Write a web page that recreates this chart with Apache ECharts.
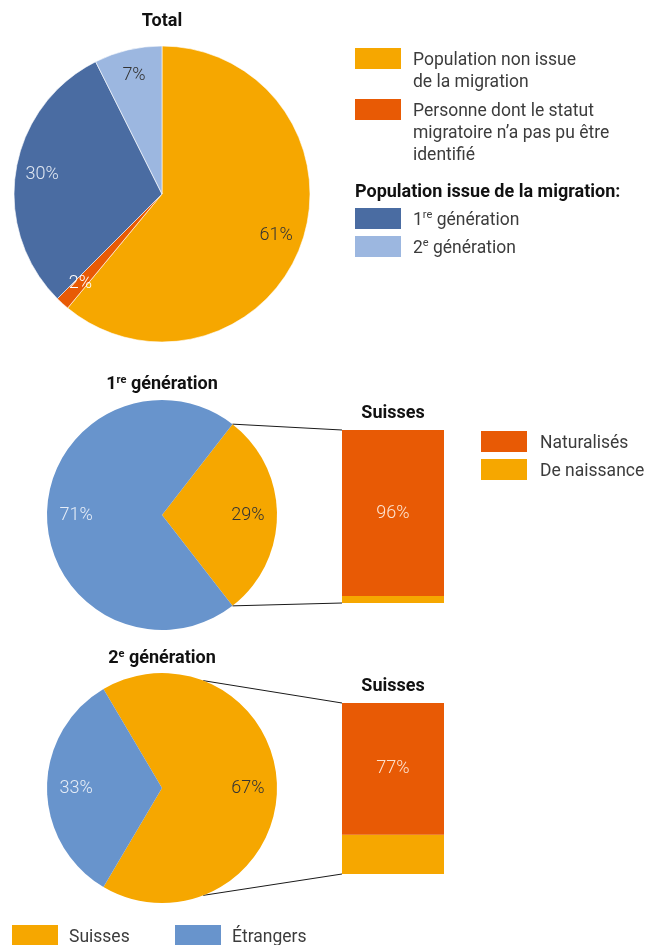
<!DOCTYPE html>
<html>
<head>
<meta charset="utf-8">
<script src="https://cdn.jsdelivr.net/npm/echarts@6/dist/echarts.min.js"></script>
<style>
  html, body { margin: 0; padding: 0; background: #fff; }
  #chart { width: 646px; height: 945px; }
</style>
</head>
<body>
<div id="chart"></div>
<script>
// 数据：总体
const totalNames = [
  'Population non issue\nde la migration',
  'Personne dont le statut\nmigratoire n’a pas pu être\nidentifié',
  '1re génération',
  '2e génération'
]
const totalValues = [61.0, 1.5, 30.1, 7.4]

// 数据：第一代 / 第二代
const genNames = ['Suisses', 'Étrangers']
const gen1Values = [29, 71]
const gen2Values = [67, 33]

// 数据：瑞士人构成（堆叠柱）
const barCategories = ['Suisses']
const barNames = ['Naturalisés', 'De naissance']
const gen1Naturalises = [96]
const gen1Naissance = [4]
const gen2Naturalises = [77]
const gen2Naissance = [23]

// 颜色
const ORANGE = '#f6a700'
const RED = '#e85a05'
const DARK_BLUE = '#4a6ca2'
const LIGHT_BLUE = '#9cb7e0'
const MID_BLUE = '#6894cc'
const TEXT = '#3c3c3c'
const FONT = 'Roboto, "Noto Sans", sans-serif'

const chart = echarts.init(document.getElementById('chart'))

// 上标
const supRich = { sup: { fontSize: 11, verticalAlign: 'top', padding: [0, 0, 2, 0] } }
const withSup = (s) => s.replace(/^(\d)(re|e) /, '$1{sup|$2} ')

const pctLabel = (p) => Math.round(p.value) + '%'

// 饼图
const pieBase = (center, radius, startAngle, data, border) => ({
  type: 'pie',
  center,
  radius,
  startAngle,
  clockwise: true,
  data,
  label: { show: false },
  labelLine: { show: false },
  emphasis: { disabled: true },
  itemStyle: { borderColor: '#fff', borderWidth: border },
  animation: false
})

// 用于放置标签的透明饼图
const labelPie = (center, radius, startAngle, names, values, colors) => ({
  type: 'pie',
  center,
  radius,
  startAngle,
  clockwise: true,
  silent: true,
  data: names.map((n, i) => ({
    name: n,
    value: values[i],
    label: { color: colors[i] }
  })),
  itemStyle: { color: 'rgba(0,0,0,0)', borderWidth: 0 },
  label: {
    show: true,
    position: 'inside',
    formatter: pctLabel,
    fontFamily: FONT,
    fontSize: 18,
    fontWeight: 300
  },
  labelLine: { show: false },
  emphasis: { disabled: true },
  animation: false
})

const totalCenter = [162, 194], totalR = 148
const gen1Center = [162, 515], gen2Center = [162, 788], genR = 115
const gen1Start = gen1Values[0] * 3.6 / 2
const gen2Start = gen2Values[0] * 3.6 / 2

const legendCommon = {
  orient: 'vertical',
  padding: 0,
  itemWidth: 46,
  itemHeight: 21,
  icon: 'rect',
  selectedMode: false,
  itemStyle: { borderWidth: 0 },
  textStyle: { fontFamily: FONT, fontSize: 17.5, color: TEXT, lineHeight: 22, rich: supRich }
}

const legendItem = (name, left, top, padTop, padLeft) => Object.assign({}, legendCommon, {
  left, top,
  data: [name],
  formatter: withSup,
  textStyle: Object.assign({}, legendCommon.textStyle, { padding: [padTop, 0, 0, padLeft] })
})

const titleStyle = { fontFamily: FONT, fontSize: 18, fontWeight: 'bold', color: '#111', rich: { sup: { fontSize: 11, fontWeight: 'bold', verticalAlign: 'top', padding: [0, 0, 3, 0] } } }
const title = (text, left, top, align) => ({
  text, left, top, padding: 0, textAlign: align || 'center', textStyle: titleStyle
})

const barSeries = (name, data, idx, color, showLabel) => ({
  type: 'bar',
  name,
  data,
  stack: 's' + idx,
  xAxisIndex: idx,
  yAxisIndex: idx,
  barWidth: '100%',
  itemStyle: { color },
  label: {
    show: showLabel,
    position: 'inside',
    formatter: '{c}%',
    color: '#fde3d0',
    fontFamily: FONT,
    fontSize: 18,
    fontWeight: 300
  },
  emphasis: { disabled: true },
  animation: false
})

const grids = [
  { left: 342, top: 430, width: 102, height: 173 },
  { left: 342, top: 703, width: 102, height: 171 }
]

chart.setOption({
  title: [
    title('Total', 162, 12),
    title('1{sup|re} génération', 162, 375),
    title('2{sup|e} génération', 162, 649),
    title('Suisses', 393, 404),
    title('Suisses', 393, 677),
    title('Population issue de la migration:', 355, 183, 'left')
  ],
  legend: [
    legendItem(totalNames[0], 355, 23.5, 26, 7),
    legendItem(totalNames[1], 355, 52.5, 48, 7),
    Object.assign({}, legendCommon, {
      left: 355, top: 205.5, itemGap: 2,
      data: [totalNames[2], totalNames[3]],
      formatter: withSup,
      textStyle: Object.assign({}, legendCommon.textStyle, { padding: [4, 0, 0, 7] })
    }),
    Object.assign({}, legendCommon, {
      left: 481, top: 428.5, itemGap: 2,
      data: barNames,
      textStyle: Object.assign({}, legendCommon.textStyle, { padding: [4, 0, 0, 8] })
    }),
    legendItem(genNames[0], 12, 922.5, 4, 6),
    legendItem(genNames[1], 175, 922.5, 4, 6)
  ],
  grid: grids,
  xAxis: grids.map((g, i) => ({ type: 'category', gridIndex: i, data: barCategories, show: false })),
  yAxis: grids.map((g, i) => ({ type: 'value', gridIndex: i, min: 0, max: 100, show: false })),
  series: [
    pieBase(totalCenter, totalR, 90, totalNames.map((n, i) => ({
      name: n, value: totalValues[i], itemStyle: { color: [ORANGE, RED, DARK_BLUE, LIGHT_BLUE][i] }
    })), 0.6),
    pieBase(gen1Center, genR, gen1Start, genNames.map((n, i) => ({
      name: n, value: gen1Values[i], itemStyle: { color: [ORANGE, MID_BLUE][i] }
    })), 0),
    pieBase(gen2Center, genR, gen2Start, genNames.map((n, i) => ({
      name: n, value: gen2Values[i], itemStyle: { color: [ORANGE, MID_BLUE][i] }
    })), 0),
    labelPie(totalCenter, [totalR * 0.6, totalR], 90, totalNames, totalValues, ['#333', '#fff', '#dfe6f1', '#333']),
    labelPie(gen1Center, [genR * 0.44, genR], gen1Start, genNames, gen1Values, ['#333', '#e6edf7']),
    labelPie(gen2Center, [genR * 0.44, genR], gen2Start, genNames, gen2Values, ['#333', '#e6edf7']),
    barSeries(barNames[1], gen1Naissance, 0, ORANGE, false),
    barSeries(barNames[0], gen1Naturalises, 0, RED, true),
    barSeries(barNames[1], gen2Naissance, 1, ORANGE, false),
    barSeries(barNames[0], gen2Naturalises, 1, RED, true)
  ]
})

// 饼图与柱之间的连接线
const linkLines = (center, r, angleDeg, gridIdx) => {
  const a = angleDeg * Math.PI / 180
  const px = center[0] + r * Math.cos(a)
  const dy = r * Math.sin(a)
  const top = chart.convertToPixel({ gridIndex: gridIdx }, [0, 100])
  const bottom = chart.convertToPixel({ gridIndex: gridIdx }, [0, 0])
  const left = grids[gridIdx].left
  return [
    [px, center[1] - dy, left, top[1]],
    [px, center[1] + dy, left, bottom[1]]
  ]
}
const lines = linkLines(gen1Center, genR, gen1Start, 0).concat(linkLines(gen2Center, genR, 69, 1))
chart.setOption({
  graphic: lines.map(l => ({
    type: 'line',
    shape: { x1: l[0], y1: l[1], x2: l[2], y2: l[3] },
    style: { stroke: '#1a1a1a', lineWidth: 1 },
    silent: true
  }))
})
</script>
</body>
</html>
